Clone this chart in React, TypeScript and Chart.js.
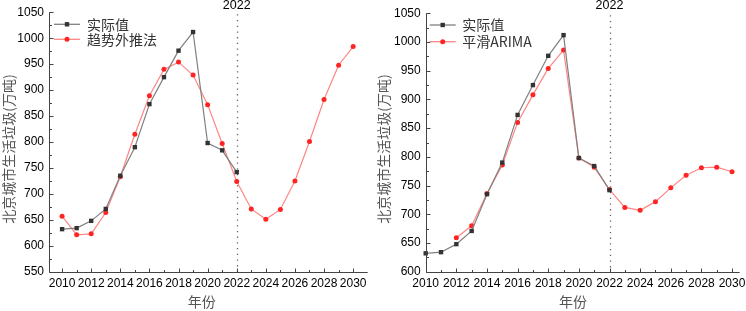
import React, { useEffect, useRef } from "react";
import { Chart, registerables } from "chart.js";

Chart.register(...registerables);

// ---------- data ----------
const YEARS_ACTUAL = [2010, 2011, 2012, 2013, 2014, 2015, 2016, 2017, 2018, 2019, 2020, 2021, 2022];
const ACTUAL = [632, 634, 648, 671, 735, 790, 873, 925, 976, 1012, 798, 784, 742];

const YEARS_TREND = [2010, 2011, 2012, 2013, 2014, 2015, 2016, 2017, 2018, 2019, 2020, 2021, 2022, 2023, 2024, 2025, 2026, 2027, 2028, 2029, 2030];
const TREND = [657, 621, 623, 664, 733, 815, 889, 940, 954, 929, 872, 797, 724, 671, 651, 670, 725, 801, 882, 948, 984];

const YEARS_ARIMA = [2012, 2013, 2014, 2015, 2016, 2017, 2018, 2019, 2020, 2021, 2022, 2023, 2024, 2025, 2026, 2027, 2028, 2029, 2030];
const ARIMA = [659, 680, 736, 786, 860, 908, 954, 986, 798, 782, 743, 712, 707, 722, 746, 768, 781, 782, 774];

const X_TICKS = [2010, 2012, 2014, 2016, 2018, 2020, 2022, 2024, 2026, 2028, 2030];
const Y_TICKS_LEFT = [550, 600, 650, 700, 750, 800, 850, 900, 950, 1000, 1050];
const Y_TICKS_RIGHT = [600, 650, 700, 750, 800, 850, 900, 950, 1000, 1050];

const MARK_YEAR = 2022;
const Y_TITLE = "北京城市生活垃圾(万吨)";
const X_TITLE = "年份";
const ACTUAL_LABEL = "实际值";
const TREND_LABEL = "趋势外推法";
const ARIMA_LABEL = "平滑ARIMA";

// ---------- styles / layout ----------
const W = 373;
const H = 311;
const NUM_FONT = "'Liberation Sans', Arial, sans-serif";
const CJK_FONT = "'Noto Sans CJK SC', 'Liberation Sans', sans-serif";
const GRAY_LINE = "#808080";
const GRAY_MARK = "#333333";
const RED_LINE = "#ff8585";
const RED_MARK = "#ff2424";
const AXIS_COLOR = "#444444";

type PanelCfg = {
  offset: number;
  xMin: number;
  xMax: number;
  yMin: number;
  yMax: number;
  yTicks: number[];
  area: { left: number; right: number; top: number; bottom: number };
  predYears: number[];
  pred: number[];
  predLabel: string;
  legend: { x0: number; x1: number; tx: number; rows: number[] };
  yTitle: { x: number; y: number };
  xTitle: { x: number; y: number };
};

const LEFT: PanelCfg = {
  offset: 0,
  xMin: 2009.1,
  xMax: 2031,
  yMin: 550,
  yMax: 1050,
  yTicks: Y_TICKS_LEFT,
  area: { left: 49, right: 367.7, top: 12.3, bottom: 271.7 },
  predYears: YEARS_TREND,
  pred: TREND,
  predLabel: TREND_LABEL,
  legend: { x0: 54, x1: 80, tx: 87, rows: [24.3, 39.3] },
  yTitle: { x: 8.5, y: 149 },
  xTitle: { x: 201.7, y: 301.5 },
};

const RIGHT: PanelCfg = {
  offset: 373,
  xMin: 2010,
  xMax: 2030.5,
  yMin: 600,
  yMax: 1050,
  yTicks: Y_TICKS_RIGHT,
  area: { left: 52.7, right: 366.7, top: 13.3, bottom: 271.7 },
  predYears: YEARS_ARIMA,
  pred: ARIMA,
  predLabel: ARIMA_LABEL,
  legend: { x0: 56.7, x1: 82.7, tx: 89.3, rows: [25, 41.7] },
  yTitle: { x: 11, y: 149 },
  xTitle: { x: 200, y: 301.5 },
};

function makeOverlay(cfg: PanelCfg) {
  return {
    id: "overlay",
    beforeDatasetsDraw(chart: any) {
      const { ctx, chartArea, scales } = chart;
      const px = Math.round(scales.x.getPixelForValue(MARK_YEAR)) + 0.5;
      ctx.save();
      ctx.strokeStyle = "#666666";
      ctx.lineWidth = 1.3;
      ctx.setLineDash([1.3, 4.4]);
      ctx.beginPath();
      ctx.moveTo(px, chartArea.top + 2);
      ctx.lineTo(px, chartArea.bottom);
      ctx.stroke();
      ctx.restore();
    },
    afterDraw(chart: any) {
      const { ctx, chartArea, scales } = chart;
      const xs = scales.x;
      const ys = scales.y;
      const L = Math.round(chartArea.left) + 0.5;
      const B = Math.round(chartArea.bottom) + 0.5;
      ctx.save();
      // axes
      ctx.strokeStyle = AXIS_COLOR;
      ctx.lineWidth = 1;
      ctx.beginPath();
      ctx.moveTo(L, chartArea.top);
      ctx.lineTo(L, B);
      ctx.lineTo(chartArea.right, B);
      ctx.stroke();
      // x ticks (inward)
      ctx.beginPath();
      for (let yr = 2010; yr <= 2030; yr++) {
        const p = Math.round(xs.getPixelForValue(yr)) + 0.5;
        const len = yr % 2 === 0 ? 4 : 2.5;
        ctx.moveTo(p, B);
        ctx.lineTo(p, B - len);
      }
      // y ticks (inward)
      const yt = cfg.yTicks;
      for (let i = 0; i < yt.length; i++) {
        const p = Math.round(ys.getPixelForValue(yt[i])) + 0.5;
        ctx.moveTo(L, p);
        ctx.lineTo(L + 4, p);
        if (i < yt.length - 1) {
          const m = Math.round(ys.getPixelForValue((yt[i] + yt[i + 1]) / 2)) + 0.5;
          ctx.moveTo(L, m);
          ctx.lineTo(L + 2.5, m);
        }
      }
      ctx.stroke();

      // 2022 label
      ctx.fillStyle = "#000";
      ctx.font = `12.5px ${NUM_FONT}`;
      ctx.textAlign = "center";
      ctx.textBaseline = "middle";
      ctx.fillText(String(MARK_YEAR), xs.getPixelForValue(MARK_YEAR), 6);

      // axis titles
      ctx.fillStyle = "#555";
      ctx.font = `14px ${CJK_FONT}`;
      ctx.fillText(X_TITLE, cfg.xTitle.x, cfg.xTitle.y);
      ctx.save();
      ctx.translate(cfg.yTitle.x, cfg.yTitle.y);
      ctx.rotate(-Math.PI / 2);
      ctx.fillText(Y_TITLE, 0, 0);
      ctx.restore();

      // legend
      const lg = cfg.legend;
      const items = [
        { label: ACTUAL_LABEL, line: GRAY_LINE, mark: GRAY_MARK, rect: true },
        { label: cfg.predLabel, line: RED_LINE, mark: RED_MARK, rect: false },
      ];
      items.forEach((it, i) => {
        const y = lg.rows[i];
        ctx.strokeStyle = it.line;
        ctx.lineWidth = 1.3;
        ctx.beginPath();
        ctx.moveTo(lg.x0, y);
        ctx.lineTo(lg.x1, y);
        ctx.stroke();
        const cx = (lg.x0 + lg.x1) / 2;
        ctx.fillStyle = it.mark;
        if (it.rect) {
          ctx.fillRect(cx - 2.2, y - 2.2, 4.4, 4.4);
        } else {
          ctx.beginPath();
          ctx.arc(cx, y, 2.5, 0, Math.PI * 2);
          ctx.fill();
        }
        ctx.fillStyle = "#333";
        ctx.font = `14px ${CJK_FONT}`;
        ctx.textAlign = "left";
        ctx.textBaseline = "middle";
        ctx.fillText(it.label, lg.tx, y);
      });
      ctx.restore();
    },
  };
}

function Panel({ cfg }: { cfg: PanelCfg }) {
  const ref = useRef<HTMLCanvasElement>(null);
  useEffect(() => {
    if (!ref.current) return;
    const a = cfg.area;
    const chart = new Chart(ref.current, {
      type: "line",
      data: {
        datasets: [
          {
            label: ACTUAL_LABEL,
            data: YEARS_ACTUAL.map((x, i) => ({ x, y: ACTUAL[i] })),
            borderColor: GRAY_LINE,
            backgroundColor: GRAY_MARK,
            borderWidth: 1.2,
            pointStyle: "rect",
            pointRadius: 3.1,
            pointBorderWidth: 0,
            pointBackgroundColor: GRAY_MARK,
            tension: 0,
            clip: false as any,
          },
          {
            label: cfg.predLabel,
            data: cfg.predYears.map((x, i) => ({ x, y: cfg.pred[i] })),
            borderColor: RED_LINE,
            backgroundColor: RED_MARK,
            borderWidth: 1.2,
            pointStyle: "circle",
            pointRadius: 2.5,
            pointBorderWidth: 0,
            pointBackgroundColor: RED_MARK,
            tension: 0,
            clip: false as any,
          },
        ],
      },
      options: {
        animation: false,
        responsive: false,
        devicePixelRatio: 1,
        layout: { padding: { left: 0, top: a.top, right: W - a.right, bottom: 0 } },
        plugins: { legend: { display: false }, tooltip: { enabled: false } },
        scales: {
          x: {
            type: "linear",
            min: cfg.xMin,
            max: cfg.xMax,
            grid: { display: false, drawTicks: false },
            border: { display: false },
            ticks: {
              color: "#000",
              font: { family: NUM_FONT, size: 12 },
              padding: 5,
              maxRotation: 0,
              autoSkip: false,
              callback: (v: any) => String(v),
            },
            afterBuildTicks: (s: any) => {
              s.ticks = X_TICKS.map((v) => ({ value: v }));
            },
            afterFit: (s: any) => {
              s.height = H - a.bottom;
              s.paddingLeft = 0;
              s.paddingRight = 0;
              s.paddingTop = 0;
              s.paddingBottom = 0;
            },
          },
          y: {
            type: "linear",
            min: cfg.yMin,
            max: cfg.yMax,
            grid: { display: false, drawTicks: false },
            border: { display: false },
            ticks: {
              color: "#000",
              font: { family: NUM_FONT, size: 12 },
              padding: 5,
              autoSkip: false,
              callback: (v: any) => String(v),
            },
            afterBuildTicks: (s: any) => {
              s.ticks = cfg.yTicks.map((v) => ({ value: v }));
            },
            afterFit: (s: any) => {
              s.width = a.left;
              s.paddingLeft = 0;
              s.paddingRight = 0;
              s.paddingTop = 0;
              s.paddingBottom = 0;
            },
          },
        },
      } as any,
      plugins: [makeOverlay(cfg)],
    });
    return () => chart.destroy();
  }, [cfg]);
  return (
    <canvas
      ref={ref}
      width={W}
      height={H}
      style={{ position: "absolute", left: cfg.offset, top: 0, width: W, height: H }}
    />
  );
}

export default function App() {
  return (
    <div style={{ position: "absolute", left: 0, top: 0, width: 746, height: 311, background: "#fff" }}>
      <Panel cfg={LEFT} />
      <Panel cfg={RIGHT} />
    </div>
  );
}
